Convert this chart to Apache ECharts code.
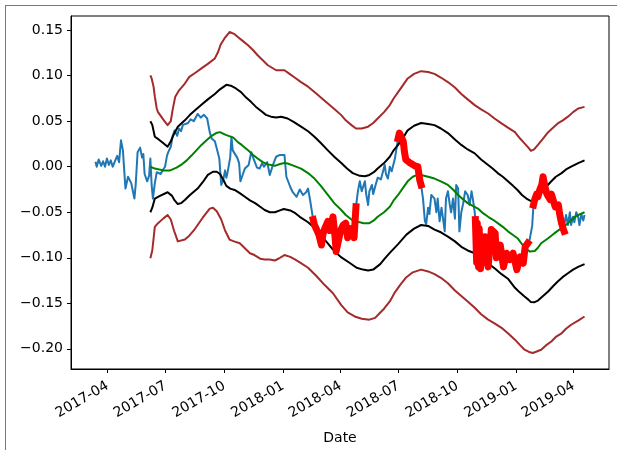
<!DOCTYPE html>
<html>
<head>
<meta charset="utf-8">
<script src="https://cdn.jsdelivr.net/npm/echarts@6/dist/echarts.min.js"></script>
<style>
  html, body { margin: 0; padding: 0; background: #fff; }
  #frame { position: absolute; left: 5px; top: 5px; width: 612px; height: 445px;
           border-top: 1px solid #777; border-left: 1px solid #777; }
  #chart { position: absolute; left: 0; top: 0; width: 617px; height: 450px; }
</style>
</head>
<body>
<div id="frame"></div>
<div id="chart"></div>
<script>
// all x data are days counted from 2017-04-01
const BASE = Date.UTC(2017, 3, 1);
const DAY = 86400000;

const tickDates = ['2017-04-01', '2017-07-01', '2017-10-01', '2018-01-01', '2018-04-01',
  '2018-07-01', '2018-10-01', '2019-01-01', '2019-04-01'];
const tickLabels = ['2017-04', '2017-07', '2017-10', '2018-01', '2018-04',
  '2018-07', '2018-10', '2019-01', '2019-04'];
const yTicks = [-0.2, -0.15, -0.1, -0.05, 0, 0.05, 0.1, 0.15];

const blueDays = [
  -19, -17, -14, -10, -7, -4, -1, 2, 5, 8,
  11, 15, 18, 21, 24, 28, 30, 32, 35, 37,
  40, 42, 44, 47, 51, 54, 56, 58, 62, 65,
  67, 69, 71, 74, 77, 80, 83, 87, 90, 93,
  95, 99, 102, 105, 109, 112, 115, 118, 121, 126,
  130, 135, 141, 146, 151, 156, 160, 163, 168, 171,
  175, 178, 181, 184, 186, 188, 192, 194, 196, 199,
  203, 206, 208, 212, 215, 218, 221, 225, 229, 234,
  238, 242, 245, 250, 254, 259, 264, 270, 277, 280,
  286, 290, 296, 301, 306, 311, 314, 317, 322, 324,
  328, 331, 335, 337, 340, 345, 348, 353, 356, 358,
  361, 365, 369, 373, 376, 380, 383, 386, 389, 392,
  395, 398, 403, 405, 408, 410, 414, 416, 419, 423,
  428, 434, 436, 439, 442, 445, 450, 452, 455, 457,
  459, 463, 465, 467, 470, 474, 476, 481, 486, 489,
  491, 494, 497, 499, 502, 504, 507, 512, 515, 517,
  520, 523, 525, 528, 530, 533, 536, 538, 541, 544,
  546, 549, 551, 554, 557, 560, 564, 567, 570, 572,
  575, 576, 578, 579, 581, 582, 584, 586, 589, 591,
  593, 596, 601, 607, 609, 615, 620, 625, 630, 635,
  641, 646, 651, 654, 658, 661, 665, 667, 669, 672,
  674, 677, 680, 682, 685, 688, 690, 693, 695, 698,
  701, 703, 706, 708, 711, 714, 715, 718, 721, 724,
  726, 729, 731, 734, 737, 739, 742, 745, 747
];
const blueValues = [
  0.0055, 0, 0.008, 0.001, 0.006, 0, 0.009, 0.002, 0.007, 0,
  0.005, 0.012, 0.005, 0.029, 0.018, -0.024, -0.022, -0.011, -0.013, -0.018,
  -0.028, -0.035, -0.020, 0.016, 0.021, 0.010, 0.014, -0.008, -0.016, -0.010,
  0.009, -0.020, -0.035, -0.018, -0.006, -0.004, -0.008, -0.003, 0.000, 0.012,
  0.016, 0.022, 0.034, 0.040, 0.034, 0.042, 0.039, 0.046, 0.044, 0.048,
  0.052, 0.050, 0.058, 0.054, 0.057, 0.053, 0.038, 0.031, 0.028, 0.020,
  0.009, -0.020, -0.015, -0.004, -0.012, -0.006, 0.010, 0.033, 0.018, 0.020,
  0.010, 0.004, -0.016, -0.008, -0.002, -0.004, 0.002, 0.016, 0.008, -0.001,
  -0.002, 0.004, 0.000, 0.005, -0.009, 0.002, 0.011, 0.013, 0.013, -0.011,
  -0.022, -0.028, -0.033, -0.025, -0.031, -0.028, -0.024, -0.036, -0.058, -0.064,
  -0.070, -0.075, -0.086, -0.075, -0.068, -0.060, -0.070, -0.055, -0.075, -0.093,
  -0.083, -0.070, -0.064, -0.062, -0.078, -0.068, -0.071, -0.078, -0.044, -0.027,
  -0.016, -0.027, -0.016, -0.030, -0.042, -0.027, -0.020, -0.030, -0.022, -0.012,
  -0.014, 0.002, -0.008, -0.013, 0.000, -0.005, 0.009, 0.018, 0.031, 0.037,
  0.034, 0.028, 0.016, 0.008, 0.010, 0.004, 0.006, 0.001, 0.000, -0.015,
  -0.020, -0.035, -0.060, -0.063, -0.045, -0.052, -0.031, -0.035, -0.050, -0.035,
  -0.060, -0.045, -0.055, -0.071, -0.035, -0.027, -0.042, -0.050, -0.035, -0.057,
  -0.020, -0.024, -0.071, -0.050, -0.040, -0.027, -0.031, -0.042, -0.027, -0.035,
  -0.050, -0.058, -0.105, -0.062, -0.110, -0.068, -0.112, -0.078, -0.105, -0.077,
  -0.100, -0.110, -0.069, -0.073, -0.100, -0.086, -0.110, -0.095, -0.102, -0.095,
  -0.113, -0.099, -0.106, -0.088, -0.084, -0.080, -0.065, -0.042, -0.036, -0.030,
  -0.033, -0.025, -0.020, -0.011, -0.022, -0.030, -0.028, -0.036, -0.030, -0.032,
  -0.044, -0.046, -0.042, -0.052, -0.062, -0.069, -0.071, -0.053, -0.064, -0.050,
  -0.064, -0.055, -0.061, -0.050, -0.055, -0.064, -0.052, -0.059, -0.053
];

// stretches of the series drawn again in thick red
const redRanges = [[322, 389], [455, 491], [576, 658], [667, 715]];

const maDays = [67, 74, 87, 98, 108, 115, 124, 131, 139, 147, 155, 163, 170, 176, 185, 197, 204, 210, 220, 228,
  235, 243, 251, 262, 270, 277, 282, 292, 303, 314, 324, 334, 345, 355, 366, 373, 382, 387, 395, 401,
  410, 417, 423, 433, 442, 448, 455, 463, 470, 478, 485, 491, 502, 512, 522, 533, 541, 549, 557, 564,
  572, 580, 588, 596, 603, 611, 619, 627, 635, 642, 650, 656, 661, 669, 674, 679, 690, 700, 711, 721,
  732, 740, 747];
const maValues = [0.000, -0.002, -0.004, -0.004, -0.001, 0.002, 0.007, 0.012, 0.018, 0.024,
  0.029, 0.034, 0.037, 0.038, 0.035, 0.032, 0.027, 0.024, 0.018, 0.013,
  0.009, 0.005, 0.0026, 0.001, 0.003, 0.004, 0.0035, 0.001, -0.002, -0.007,
  -0.013, -0.021, -0.031, -0.040, -0.0475, -0.053, -0.058, -0.060, -0.061, -0.062,
  -0.062, -0.059, -0.055, -0.050, -0.044, -0.037, -0.031, -0.023, -0.016, -0.011,
  -0.009, -0.009, -0.011, -0.013, -0.016, -0.020, -0.025, -0.031, -0.036, -0.040,
  -0.043, -0.046, -0.051, -0.055, -0.058, -0.062, -0.066, -0.071, -0.075, -0.0785,
  -0.086, -0.090, -0.093, -0.0925, -0.089, -0.084, -0.0785, -0.073, -0.0675, -0.062,
  -0.055, -0.052, -0.050];

const innerUpDays = [67, 70, 74, 80, 87, 94, 99, 104, 110, 121, 129, 137, 147, 157, 168, 176, 186, 193, 201, 209,
  217, 225, 232, 241, 248, 256, 264, 272, 282, 292, 303, 314, 324, 334, 345, 355, 366, 375, 384, 395,
  403, 410, 417, 423, 433, 442, 448, 455, 463, 470, 480, 491, 502, 512, 522, 533, 544, 554, 564, 575,
  585, 596, 603, 611, 619, 627, 635, 642, 649, 656, 661, 666, 672, 679, 687, 695, 702, 711, 718, 726,
  737, 747];
const innerUpValues = [0.050, 0.046, 0.033, 0.030, 0.026, 0.022, 0.028, 0.036, 0.044, 0.051,
  0.057, 0.062, 0.068, 0.074, 0.080, 0.085, 0.090, 0.089, 0.086, 0.082,
  0.076, 0.071, 0.066, 0.061, 0.057, 0.055, 0.054, 0.055, 0.053, 0.049,
  0.044, 0.039, 0.033, 0.026, 0.018, 0.011, 0.004, -0.002, -0.007, -0.010,
  -0.0105, -0.009, -0.006, -0.002, 0.004, 0.011, 0.018, 0.024, 0.032, 0.040,
  0.045, 0.048, 0.047, 0.0457, 0.042, 0.037, 0.030, 0.024, 0.019, 0.0147,
  0.008, 0.002, -0.002, -0.007, -0.011, -0.016, -0.021, -0.0256, -0.031, -0.035,
  -0.037, -0.0376, -0.034, -0.029, -0.022, -0.016, -0.011, -0.007, -0.003, 0.000,
  0.004, 0.007];

const innerLowDays = [67, 70, 74, 82, 94, 101, 105, 110, 115, 121, 129, 141, 149, 157, 165, 171, 176, 181, 186, 192,
  199, 207, 215, 223, 231, 239, 246, 254, 262, 270, 276, 286, 294, 301, 314, 327, 340, 353, 365, 380,
  390, 400, 408, 416, 427, 434, 442, 455, 468, 480, 491, 502, 512, 522, 533, 544, 554, 564, 575, 585,
  596, 607, 617, 627, 638, 644, 653, 659, 663, 668, 674, 682, 690, 698, 705, 713, 721, 729, 737, 747];
const innerLowValues = [-0.050, -0.045, -0.035, -0.032, -0.028, -0.032, -0.037, -0.041, -0.040, -0.0365,
  -0.031, -0.024, -0.017, -0.009, -0.0055, -0.0055, -0.008, -0.014, -0.021, -0.024,
  -0.0255, -0.029, -0.033, -0.037, -0.040, -0.044, -0.0475, -0.050, -0.050, -0.048,
  -0.0465, -0.048, -0.051, -0.055, -0.061, -0.069, -0.080, -0.091, -0.099, -0.106,
  -0.111, -0.113, -0.114, -0.113, -0.107, -0.101, -0.0946, -0.085, -0.0746, -0.068,
  -0.064, -0.065, -0.069, -0.072, -0.0767, -0.082, -0.088, -0.092, -0.095, -0.101,
  -0.106, -0.112, -0.118, -0.123, -0.133, -0.137, -0.1425, -0.146, -0.1487, -0.149,
  -0.147, -0.142, -0.137, -0.131, -0.126, -0.121, -0.117, -0.113, -0.110, -0.107];

const outerUpDays = [67, 69, 72, 74, 77, 79, 87, 94, 99, 102, 106, 112, 121, 128, 137, 147, 157, 168, 173, 177,
  183, 191, 198, 204, 212, 220, 228, 235, 243, 251, 264, 277, 285, 293, 303, 314, 324, 334, 345, 356,
  366, 373, 382, 389, 398, 408, 416, 423, 433, 442, 448, 455, 463, 470, 480, 491, 502, 512, 522, 533,
  544, 554, 564, 575, 585, 596, 606, 617, 627, 638, 646, 653, 659, 663, 668, 674, 682, 690, 698, 705,
  713, 721, 729, 737, 747];
const outerUpValues = [0.1005, 0.097, 0.088, 0.077, 0.064, 0.060, 0.052, 0.0457, 0.050, 0.063,
  0.077, 0.084, 0.0914, 0.0987, 0.103, 0.108, 0.113, 0.119, 0.126, 0.134,
  0.141, 0.148, 0.146, 0.1425, 0.138, 0.1334, 0.128, 0.1225, 0.117, 0.1115,
  0.106, 0.106, 0.102, 0.098, 0.093, 0.088, 0.082, 0.076, 0.0695, 0.063,
  0.0567, 0.051, 0.0457, 0.042, 0.042, 0.044, 0.048, 0.053, 0.060, 0.0677,
  0.075, 0.082, 0.090, 0.097, 0.102, 0.105, 0.104, 0.102, 0.098, 0.093,
  0.087, 0.080, 0.074, 0.0677, 0.063, 0.0585, 0.053, 0.0476, 0.043, 0.038,
  0.031, 0.0257, 0.021, 0.0175, 0.019, 0.024, 0.031, 0.038, 0.043, 0.0476,
  0.051, 0.055, 0.060, 0.064, 0.0658];

const outerLowDays = [67, 70, 74, 79, 87, 94, 99, 104, 110, 121, 128, 135, 141, 149, 160, 165, 171, 178, 184, 191,
  198, 207, 217, 223, 230, 239, 246, 254, 262, 270, 277, 286, 294, 301, 314, 327, 340, 353, 366, 376,
  387, 398, 410, 419, 426, 433, 442, 450, 458, 467, 478, 491, 502, 512, 522, 533, 544, 554, 564, 575,
  585, 596, 606, 617, 627, 638, 646, 653, 660, 666, 672, 679, 687, 695, 702, 711, 718, 726, 737, 747];
const outerLowValues = [-0.1005, -0.092, -0.066, -0.062, -0.057, -0.053, -0.058, -0.070, -0.082, -0.080,
  -0.0757, -0.070, -0.064, -0.056, -0.046, -0.045, -0.049, -0.058, -0.070, -0.080,
  -0.082, -0.084, -0.091, -0.095, -0.097, -0.101, -0.102, -0.102, -0.103, -0.100,
  -0.097, -0.099, -0.102, -0.105, -0.111, -0.120, -0.130, -0.139, -0.152, -0.160,
  -0.1645, -0.167, -0.168, -0.166, -0.161, -0.156, -0.148, -0.138, -0.130, -0.122,
  -0.116, -0.113, -0.115, -0.118, -0.122, -0.128, -0.136, -0.142, -0.148, -0.155,
  -0.162, -0.168, -0.172, -0.177, -0.183, -0.190, -0.196, -0.201, -0.2035, -0.2046,
  -0.203, -0.201, -0.196, -0.192, -0.187, -0.183, -0.178, -0.1736, -0.169, -0.1645];

function toTime(d) { return BASE + d * DAY; }
function pairs(days, values) { return days.map((d, i) => [toTime(d), values[i]]); }

const tickTimes = tickDates.map((s) => Date.parse(s + 'T00:00:00Z'));

const redData = [];
redRanges.forEach(([a, b], k) => {
  if (k > 0) redData.push([toTime((redRanges[k - 1][1] + a) / 2), null]);
  blueDays.forEach((d, i) => {
    if (d >= a && d <= b) redData.push([toTime(d), blueValues[i]]);
  });
});

const font = 'DejaVu Sans';

function lineSeries(data, color, width, extra) {
  return Object.assign({
    type: 'line',
    data,
    showSymbol: false,
    symbol: 'none',
    silent: true,
    lineStyle: { color, width, join: 'round' },
  }, extra || {});
}

function tickText(v) {
  let best = 0;
  tickTimes.forEach((t, i) => { if (Math.abs(t - v) < Math.abs(tickTimes[best] - v)) best = i; });
  return tickLabels[best];
}

const chart = echarts.init(document.getElementById('chart'));
chart.setOption({
  animation: false,
  grid: { left: 71, right: 8, top: 16, bottom: 81, show: true, borderColor: '#000', borderWidth: 1 },
  xAxis: {
    type: 'value',
    min: toTime(-57.3),
    max: toTime(785.3),
    splitLine: { show: false },
    axisLine: { onZero: false, lineStyle: { color: '#000', width: 1 } },
    axisTick: { show: true, length: 4, customValues: tickTimes, lineStyle: { color: '#000' } },
    axisLabel: {
      customValues: tickTimes,
      rotate: 30,
      margin: 16,
      fontSize: 14,
      fontFamily: font,
      color: '#000',
      formatter: (v) => tickText(v),
    },
    name: 'Date',
    nameLocation: 'middle',
    nameGap: 62,
    nameTextStyle: { fontSize: 14, fontFamily: font, color: '#000' },
  },
  yAxis: {
    type: 'value',
    min: -0.2222,
    max: 0.1656,
    splitLine: { show: false },
    axisLine: { show: true, onZero: false, lineStyle: { color: '#000', width: 1 } },
    axisTick: { show: true, length: 4, customValues: yTicks, lineStyle: { color: '#000' } },
    axisLabel: {
      customValues: yTicks,
      margin: 8,
      fontSize: 14,
      fontFamily: font,
      color: '#000',
      formatter: (v) => (v < 0 ? '\u2212' : '') + Math.abs(v).toFixed(2),
    },
  },
  series: [
    lineSeries(pairs(blueDays, blueValues), '#1f77b4', 2, { z: 2 }),
    lineSeries(pairs(maDays, maValues), '#008000', 2, { z: 3 }),
    lineSeries(pairs(innerUpDays, innerUpValues), '#000000', 2, { z: 3 }),
    lineSeries(pairs(innerLowDays, innerLowValues), '#000000', 2, { z: 3 }),
    lineSeries(pairs(outerUpDays, outerUpValues), '#a52a2a', 2, { z: 3 }),
    lineSeries(pairs(outerLowDays, outerLowValues), '#a52a2a', 2, { z: 3 }),
    lineSeries(redData, '#ff0000', 7, { z: 4, connectNulls: false, lineStyle: { color: '#ff0000', width: 7, join: 'round', cap: 'square' } }),
  ],
});
</script>
</body>
</html>
